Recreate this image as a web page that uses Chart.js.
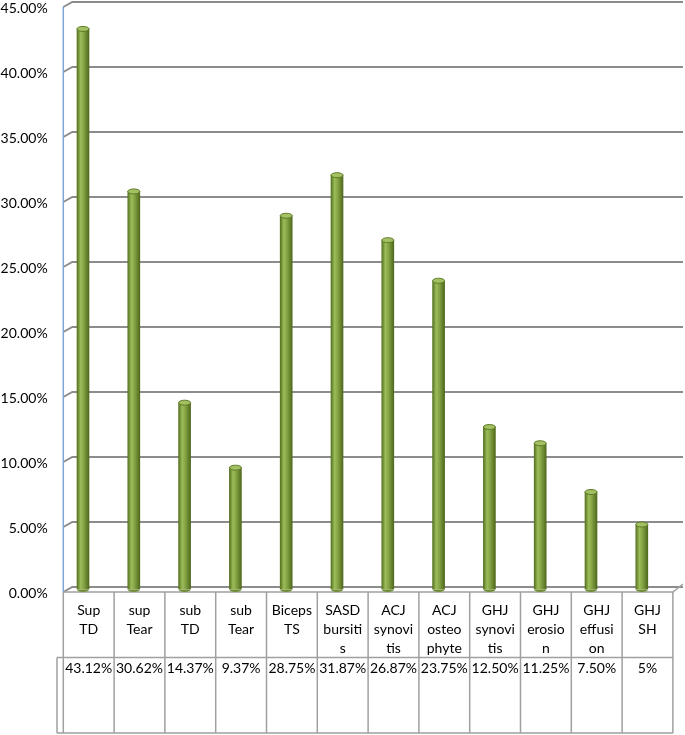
<!DOCTYPE html>
<html>
<head>
<meta charset="utf-8">
<script src="https://cdn.jsdelivr.net/npm/chart.js@4"></script>
<style>
  body { margin: 0; background: #fff; }
  #wrap { position: relative; width: 685px; height: 735px; }
</style>
</head>
<body>
<div id="wrap"><canvas id="chart"></canvas></div>
<script>
// categories, split in lines the way the table cells wrap them
let categories = [
    ["Sup", "TD"], ["sup", "Tear"], ["sub", "TD"], ["sub", "Tear"],
    ["Biceps", "TS"], ["SASD", "bursiti", "s"], ["ACJ", "synovi", "tis"],
    ["ACJ", "osteo", "phyte"], ["GHJ", "synovi", "tis"], ["GHJ", "erosio", "n"],
    ["GHJ", "effusi", "on"], ["GHJ", "SH"]
];
let values = [0.4312, 0.3062, 0.1437, 0.0937, 0.2875, 0.3187, 0.2687, 0.2375, 0.125, 0.1125, 0.075, 0.05];
let valueLabels = ["43.12%", "30.62%", "14.37%", "9.37%", "28.75%", "31.87%", "26.87%", "23.75%", "12.50%", "11.25%", "7.50%", "5%"];
let yTicks = [0, 0.05, 0.10, 0.15, 0.20, 0.25, 0.30, 0.35, 0.40, 0.45];

const FONT = "Lato, 'Open Sans', sans-serif";
const DX = 9;      // depth offset, x
const HALF = 2.5;  // half depth offset, y

function barFill(ctx) {
    let chart = ctx.chart;
    if (ctx.type !== "data" || !chart.scales.x) return "#86a545";
    let x = chart.scales.x.getPixelForValue(ctx.dataIndex);
    if (!isFinite(x)) return "#86a545";
    let g = chart.ctx.createLinearGradient(x - 6, 0, x + 6, 0);
    g.addColorStop(0, "#56721f");
    g.addColorStop(0.3, "#9cbc5a");
    g.addColorStop(0.55, "#86a545");
    g.addColorStop(1, "#506a1e");
    return g;
}

// gridlines, floor, axis line and the data table
const backdrop = {
    id: "backdrop",
    beforeDatasetsDraw(chart) {
        let c = chart.ctx;
        let y = chart.scales.y;
        let xs = chart.scales.x;
        let area = chart.chartArea;
        let wallX = area.left + 5.7;       // front edge
        let backX = wallX + DX;
        let w = xs.width / categories.length;
        let tableLeft = xs.getPixelForValue(0) - w / 2 + 5.7;
        let tableRight = tableLeft + w * categories.length;
        let floorY = y.getPixelForValue(0) + HALF;

        c.save();
        c.strokeStyle = "#8c8c8c";
        c.lineWidth = 2;
        yTicks.forEach(v => {
            let yb = y.getPixelForValue(v) - HALF;
            c.beginPath();
            c.moveTo(wallX, yb + 2 * HALF);
            c.lineTo(backX, yb);
            c.lineTo(683, yb);
            c.stroke();
        });

        // floor front + right side
        c.lineWidth = 1.5;
        c.strokeStyle = "#a0a0a0";
        c.beginPath();
        c.moveTo(tableLeft, floorY);
        c.lineTo(tableRight, floorY);
        c.lineTo(683, floorY - 8);
        c.stroke();

        // table grid
        let row1 = floorY, row2 = 657.5, row3 = 733;
        c.beginPath();
        c.moveTo(57, row2); c.lineTo(tableRight, row2);
        c.moveTo(57, row3); c.lineTo(tableRight, row3);
        c.moveTo(57, row2); c.lineTo(57, row3);
        for (let i = 0; i <= categories.length; i++) {
            let xx = tableLeft + w * i;
            c.moveTo(xx, row1);
            c.lineTo(xx, row3);
        }
        c.stroke();

        // value axis line
        c.strokeStyle = "#7ea6d8";
        c.lineWidth = 1.5;
        c.beginPath();
        c.moveTo(wallX, y.getPixelForValue(0.45) + HALF);
        c.lineTo(wallX, floorY);
        c.stroke();

        // table text
        c.fillStyle = "#000";
        c.font = "14px " + FONT;
        c.textAlign = "center";
        c.textBaseline = "middle";
        categories.forEach((lines, i) => {
            let cx = tableLeft + w * (i + 0.5);
            lines.forEach((t, k) => c.fillText(t, cx, 610 + 19 * k));
            c.fillText(valueLabels[i], cx, 668);
        });
        c.restore();
    },
    afterDatasetsDraw(chart) {
        let c = chart.ctx;
        let meta = chart.getDatasetMeta(0);
        c.save();
        meta.data.forEach(bar => {
            let r = bar.width / 2;
            // bottom cap
            c.beginPath();
            c.ellipse(bar.x, bar.base, r, 2.5, 0, 0, Math.PI);
            c.fillStyle = "#6f8d33";
            c.fill();
            // top cap
            c.beginPath();
            c.ellipse(bar.x, bar.y, r, 2.5, 0, 0, Math.PI * 2);
            c.fillStyle = "#a3c163";
            c.fill();
            c.strokeStyle = "#5d7a26";
            c.lineWidth = 1;
            c.stroke();
        });
        c.restore();
    }
};

new Chart(document.getElementById("chart"), {
    type: "bar",
    data: {
        labels: categories.map(l => l.join(" ")),
        datasets: [{
            data: values,
            backgroundColor: barFill,
            borderColor: "#5d7a26",
            borderWidth: 0,
            barThickness: 12
        }]
    },
    options: {
        responsive: true,
        maintainAspectRatio: false,
        animation: false,
        layout: { padding: { top: 4.5, bottom: 145.5, right: 17.8, left: 0 } },
        plugins: { legend: { display: false }, tooltip: { enabled: false } },
        scales: {
            x: { display: false },
            y: {
                min: 0,
                max: 0.45,
                afterBuildTicks: s => { s.ticks = yTicks.map(v => ({ value: v })); },
                afterFit: s => { s.width = 57.6; s.paddingTop = 0; s.paddingBottom = 0; },
                grid: { display: false, drawTicks: false },
                border: { display: false },
                ticks: {
                    color: "#000",
                    font: { family: FONT, size: 14 },
                    padding: 10,
                    labelOffset: 4,
                    callback: v => (v * 100).toFixed(2) + "%"
                }
            }
        }
    },
    plugins: [backdrop]
});
</script>
</body>
</html>
